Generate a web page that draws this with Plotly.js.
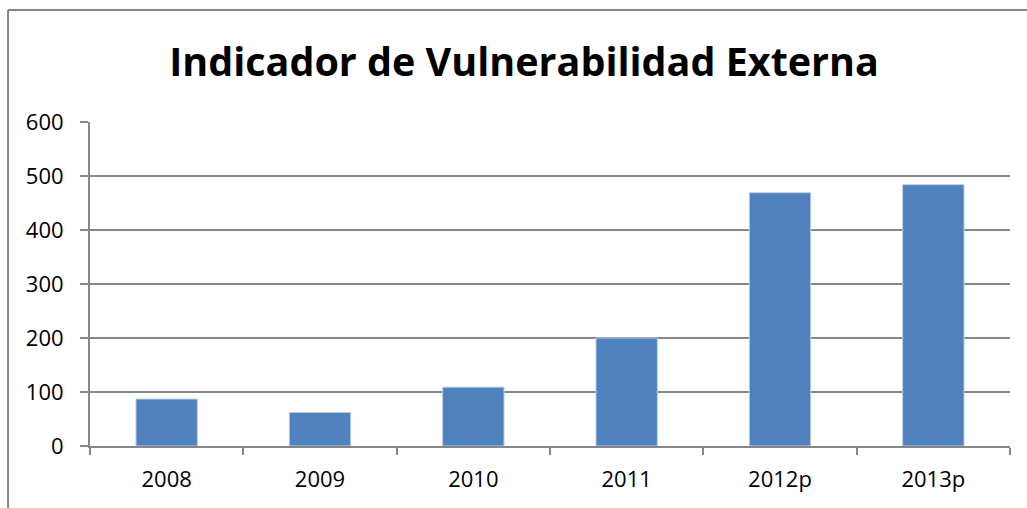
<!DOCTYPE html>
<html>
<head>
<meta charset="utf-8">
<script src="https://cdn.plot.ly/plotly-3.0.1.min.js"></script>
<style>html,body{margin:0;padding:0;background:#fff;}#chart{width:1027px;height:508px;}</style>
</head>
<body>
<div id="chart"></div>
<script>
const categories = ["2008", "2009", "2010", "2011", "2012p", "2013p"];
const values = [87, 62, 109, 200, 469, 484];
const yTicks = [0, 100, 200, 300, 400, 500, 600];
const chartTitle = "Indicador de Vulnerabilidad Externa";

const trace = {
  type: "bar",
  x: categories,
  y: values,
  marker: {color: "#4F81BD", line: {color: "#BCCDE4", width: 1}},
  hoverinfo: "x+y"
};

const layout = {
  width: 1027,
  height: 508,
  margin: {l: 90, r: 17, t: 122, b: 62},
  paper_bgcolor: "#ffffff",
  plot_bgcolor: "#ffffff",
  bargap: 0.6,
  showlegend: false,
  font: {family: "Open Sans, sans-serif", color: "#000000", size: 22},
  title: {
    text: "<b>" + chartTitle + "</b>",
    font: {family: "Open Sans, sans-serif", size: 39.5, color: "#000000"},
    x: 524 / 1027, xref: "container", xanchor: "center",
    y: 1 - 62 / 508, yref: "container", yanchor: "middle"
  },
  xaxis: {
    type: "category",
    showgrid: false,
    showline: true,
    linecolor: "#868686",
    linewidth: 2,
    ticks: "outside",
    ticklen: 7,
    tickwidth: 2,
    tickcolor: "#868686",
    tickson: "boundaries",
    tickfont: {size: 22, color: "#000000"},
    ticklabelstandoff: 13,
    zeroline: false
  },
  yaxis: {
    range: [0, 600],
    tickvals: yTicks,
    ticktext: yTicks.map(String),
    showgrid: true,
    gridcolor: "#868686",
    gridwidth: 2,
    showline: true,
    linecolor: "#868686",
    linewidth: 2,
    ticks: "outside",
    ticklen: 8,
    tickwidth: 2,
    tickcolor: "#868686",
    tickfont: {size: 22, color: "#000000"},
    ticklabelstandoff: 12,
    zeroline: false
  },
  shapes: [
    {type: "line", xref: "paper", yref: "paper", x0: -0.0891, x1: 1.05, y0: 1.3457, y1: 1.3457, line: {color: "#868686", width: 2}},
    {type: "line", xref: "paper", yref: "paper", x0: -0.0891, x1: -0.0891, y0: 1.3457, y1: -0.3, line: {color: "#868686", width: 2}}
  ]
};

Plotly.newPlot("chart", [trace], layout, {displayModeBar: false, staticPlot: true});
</script>
</body>
</html>
